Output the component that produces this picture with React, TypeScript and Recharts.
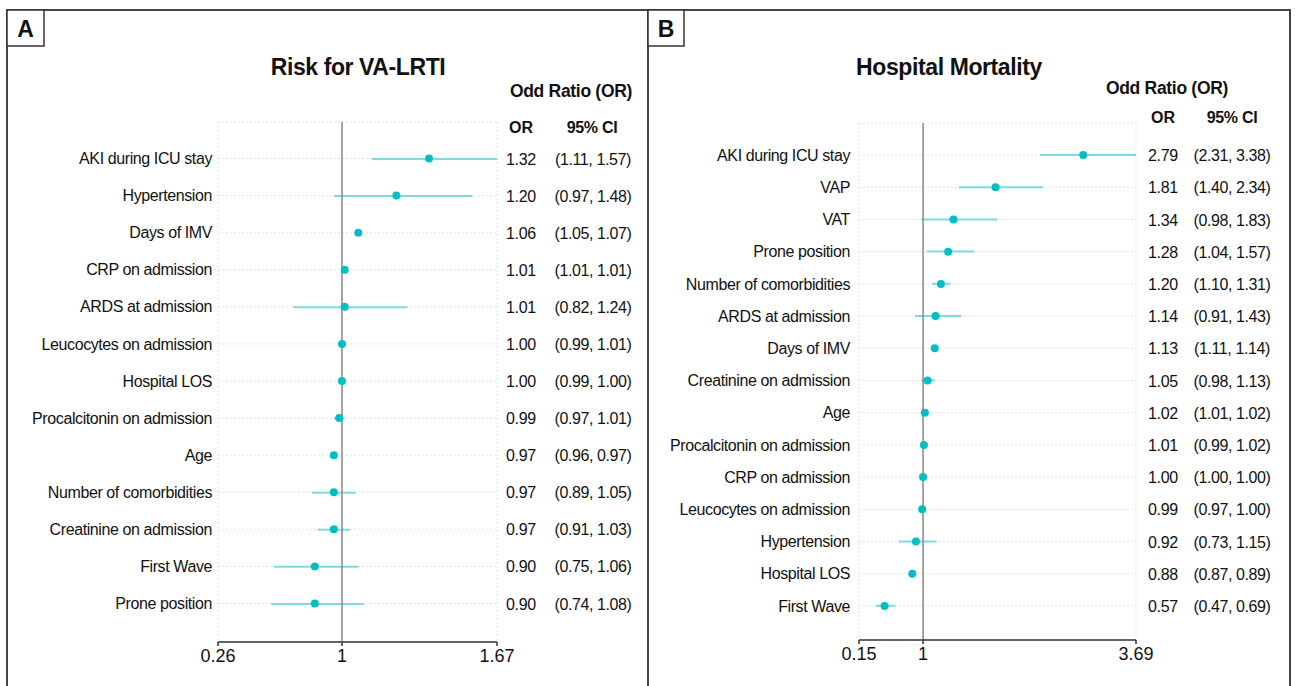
import React from "react";
import {
  ComposedChart,
  Bar,
  Line,
  XAxis,
  YAxis,
  CartesianGrid,
  ReferenceLine,
} from "recharts";

const TEAL = "#00BFC4";
const FONT = "'Liberation Sans', Arial, Helvetica, sans-serif";

// Panel A - Risk for VA-LRTI
const labelsA = [
  "AKI during ICU stay",
  "Hypertension",
  "Days of IMV",
  "CRP on admission",
  "ARDS at admission",
  "Leucocytes on admission",
  "Hospital LOS",
  "Procalcitonin on admission",
  "Age",
  "Number of comorbidities",
  "Creatinine on admission",
  "First Wave",
  "Prone position",
];
const orA = [1.32, 1.2, 1.06, 1.01, 1.01, 1.0, 1.0, 0.99, 0.97, 0.97, 0.97, 0.9, 0.9];
const lowA = [1.11, 0.97, 1.05, 1.01, 0.82, 0.99, 0.99, 0.97, 0.96, 0.89, 0.91, 0.75, 0.74];
const highA = [1.57, 1.48, 1.07, 1.01, 1.24, 1.01, 1.0, 1.01, 0.97, 1.05, 1.03, 1.06, 1.08];
const axisTicksA = [0.544, 1, 1.57];
const axisTickLabelsA = ["0.26", "1", "1.67"];

// Panel B - Hospital Mortality
const labelsB = [
  "AKI during ICU stay",
  "VAP",
  "VAT",
  "Prone position",
  "Number of comorbidities",
  "ARDS at admission",
  "Days of IMV",
  "Creatinine on admission",
  "Age",
  "Procalcitonin on admission",
  "CRP on admission",
  "Leucocytes on admission",
  "Hypertension",
  "Hospital LOS",
  "First Wave",
];
const orB = [2.79, 1.81, 1.34, 1.28, 1.2, 1.14, 1.13, 1.05, 1.02, 1.01, 1.0, 0.99, 0.92, 0.88, 0.57];
const lowB = [2.31, 1.4, 0.98, 1.04, 1.1, 0.91, 1.11, 0.98, 1.01, 0.99, 1.0, 0.97, 0.73, 0.87, 0.47];
const highB = [3.38, 2.34, 1.83, 1.57, 1.31, 1.43, 1.14, 1.13, 1.02, 1.02, 1.0, 1.0, 1.15, 0.89, 0.69];
const axisTicksB = [0.284, 1, 3.38];
const axisTickLabelsB = ["0.15", "1", "3.69"];

type Row = { name: string; or: number; ci: [number, number]; lo: number; hi: number };

function buildRows(labels: string[], or: number[], lo: number[], hi: number[]): Row[] {
  return labels.map((name, i) => ({
    name,
    or: or[i],
    lo: lo[i],
    hi: hi[i],
    ci: [lo[i], hi[i]],
  }));
}

const rowsA = buildRows(labelsA, orA, lowA, highA);
const rowsB = buildRows(labelsB, orB, lowB, highB);

interface PanelProps {
  rows: Row[];
  left: number;
  margin: { top: number; right: number; bottom: number; left: number };
  yWidth: number;
  labelGap: number;
  padding: { top: number; bottom: number };
  ticks: number[];
  tickLabels: string[];
  orX: number;
  ciX: number;
}

function ForestPanel(p: PanelProps) {
  const byName = new Map(p.rows.map((r) => [r.name, r]));

  const RowTick = (props: any) => {
    const { x, y, payload } = props;
    const r = byName.get(payload.value);
    return (
      <g fontFamily={FONT} fill="#111">
        <text x={x} y={y} dy="0.35em" textAnchor="end" fontSize={16} letterSpacing={-0.4}>
          {payload.value}
        </text>
        {r && (
          <>
            <text x={p.orX} y={y} dy="0.38em" textAnchor="middle" fontSize={16} letterSpacing={-0.3}>
              {r.or.toFixed(2)}
            </text>
            <text x={p.ciX} y={y} dy="0.38em" textAnchor="middle" fontSize={16} letterSpacing={-0.4}>
              ({r.lo.toFixed(2)}, {r.hi.toFixed(2)})
            </text>
          </>
        )}
      </g>
    );
  };

  return (
    <div style={{ position: "absolute", left: p.left, top: 0 }}>
      <ComposedChart
        width={640}
        height={686}
        data={p.rows}
        layout="vertical"
        margin={p.margin}
      >
        <CartesianGrid stroke="#e2e2e2" strokeDasharray="2 2" />
        <XAxis
          type="number"
          domain={[p.ticks[0], p.ticks[p.ticks.length - 1]]}
          ticks={p.ticks}
          allowDataOverflow
          height={30}
          axisLine={{ stroke: "#333", strokeWidth: 1.5 }}
          tickLine={{ stroke: "#333", strokeWidth: 1.5 }}
          tickSize={4}
          tickMargin={3}
          interval={0}
          tick={{ fill: "#111", fontSize: 18, fontFamily: FONT }}
          tickFormatter={(v: number) => p.tickLabels[p.ticks.indexOf(v)] ?? String(v)}
        />
        <YAxis
          type="category"
          dataKey="name"
          width={p.yWidth}
          axisLine={false}
          tickLine={false}
          tickSize={0}
          tickMargin={p.labelGap}
          interval={0}
          padding={p.padding}
          tick={<RowTick />}
        />
        <ReferenceLine x={1} stroke="#8a8a8a" strokeWidth={1.5} />
        <Bar
          dataKey="ci"
          barSize={2}
          fill={TEAL}
          fillOpacity={0.5}
          isAnimationActive={false}
        />
        <Line
          dataKey="or"
          stroke="none"
          dot={{ r: 4, fill: TEAL, stroke: "none" }}
          activeDot={false}
          isAnimationActive={false}
        />
      </ComposedChart>
    </div>
  );
}

export default function App() {
  const headStyle = { fontFamily: FONT, fontWeight: 700, fill: "#111" } as const;
  return (
    <div
      style={{
        position: "absolute",
        left: 0,
        top: 0,
        width: 1295,
        height: 686,
        background: "#fff",
        overflow: "hidden",
      }}
    >
      <ForestPanel
        rows={rowsA}
        left={0}
        margin={{ top: 122, right: 143, bottom: 14, left: 0 }}
        yWidth={218}
        labelGap={6}
        padding={{ top: 18, bottom: 20 }}
        ticks={axisTicksA}
        tickLabels={axisTickLabelsA}
        orX={521}
        ciX={593}
      />
      <ForestPanel
        rows={rowsB}
        left={650}
        margin={{ top: 123, right: 154, bottom: 16, left: 0 }}
        yWidth={209}
        labelGap={9}
        padding={{ top: 16, bottom: 18 }}
        ticks={axisTicksB}
        tickLabels={axisTickLabelsB}
        orX={513}
        ciX={582}
      />
      <svg
        width={1295}
        height={686}
        style={{ position: "absolute", left: 0, top: 0, pointerEvents: "none" }}
      >
        {/* frame */}
        <path
          d="M7 690 V10 H1290 V690 M648 10 V690"
          fill="none"
          stroke="#444"
          strokeWidth={2}
        />
        <rect x={7} y={10} width={37} height={36} fill="#fff" stroke="#333" strokeWidth={1.5} />
        <rect x={648} y={10} width={36} height={36} fill="#fff" stroke="#333" strokeWidth={1.5} />
        <text x={25.5} y={29} dominantBaseline="central" textAnchor="middle" fontSize={23} {...headStyle}>
          A
        </text>
        <text x={666} y={29} dominantBaseline="central" textAnchor="middle" fontSize={23} {...headStyle}>
          B
        </text>

        <text x={358} y={67} dominantBaseline="central" textAnchor="middle" fontSize={23} letterSpacing={-0.4} {...headStyle}>
          Risk for VA-LRTI
        </text>
        <text x={571} y={91} dominantBaseline="central" textAnchor="middle" fontSize={17.5} letterSpacing={-0.3} {...headStyle}>
          Odd Ratio (OR)
        </text>
        <text x={521} y={127} dominantBaseline="central" textAnchor="middle" fontSize={16} {...headStyle}>
          OR
        </text>
        <text x={592} y={127} dominantBaseline="central" textAnchor="middle" fontSize={16} letterSpacing={-0.3} {...headStyle}>
          95% CI
        </text>

        <text x={949} y={67} dominantBaseline="central" textAnchor="middle" fontSize={23} letterSpacing={-0.4} {...headStyle}>
          Hospital Mortality
        </text>
        <text x={1167} y={88} dominantBaseline="central" textAnchor="middle" fontSize={17.5} letterSpacing={-0.3} {...headStyle}>
          Odd Ratio (OR)
        </text>
        <text x={1163} y={117} dominantBaseline="central" textAnchor="middle" fontSize={16} {...headStyle}>
          OR
        </text>
        <text x={1232} y={117} dominantBaseline="central" textAnchor="middle" fontSize={16} letterSpacing={-0.3} {...headStyle}>
          95% CI
        </text>
      </svg>
    </div>
  );
}
